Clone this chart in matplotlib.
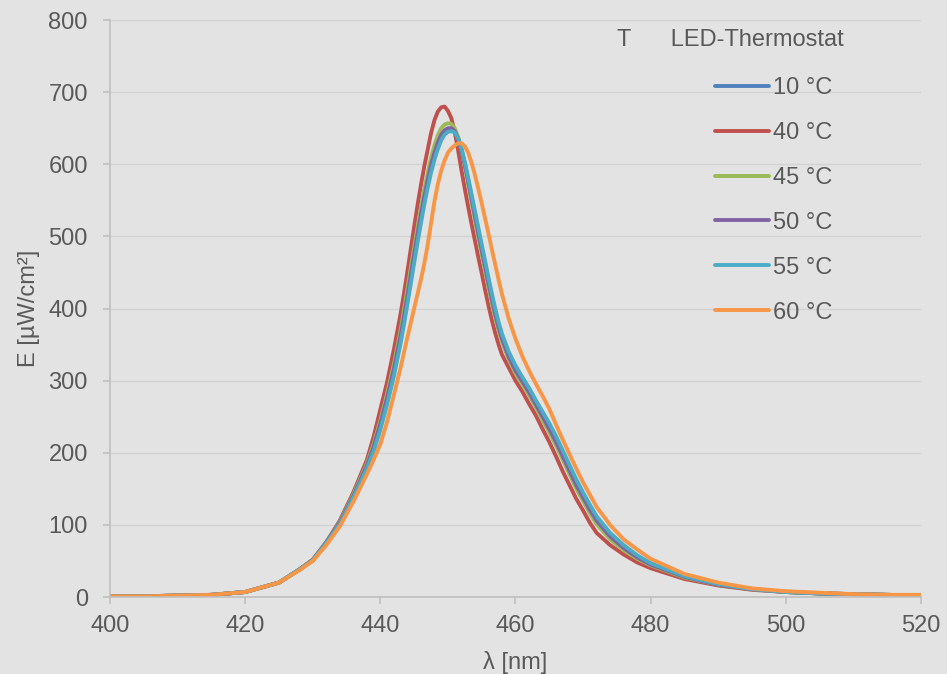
import matplotlib.pyplot as plt

plt.rcParams['font.family'] = ['Liberation Sans', 'DejaVu Sans']

wl = ([400, 405, 410, 415, 420, 425, 428, 430, 432, 434, 436, 438]
      + [439, 440, 441, 442]
      + [443 + 0.5 * i for i in range(31)]
      + list(range(459, 473))
      + [474, 476, 478, 480]
      + [485, 490, 495, 500, 505, 510, 515, 520])

e_10 = ([1, 1, 2, 3, 7, 20, 38, 51, 75, 102, 139, 180]
        + [205, 236, 271, 311]
        + [356, 383, 411, 440, 469, 497, 524, 550, 573, 594, 611, 626, 637, 644, 647, 648,
           645, 636, 621, 601, 579, 555, 532, 508, 485, 462, 439, 417, 396, 378, 362]
        + [337, 318, 302, 287, 270, 254, 238, 220, 200, 180, 160, 142, 125, 109]
        + [87, 70, 57, 46]
        + [28, 18, 11, 7, 5, 4, 3, 2])
e_40 = ([1, 1, 2, 3, 7, 20, 38, 52, 76, 106, 145, 190]
        + [222, 260, 298, 343]
        + [393, 421, 451, 482, 513, 543, 571, 597, 620, 643, 661, 673, 679, 680, 674, 664,
           645, 620, 592, 566, 541, 517, 494, 471, 449, 426, 404, 384, 366, 350, 336]
        + [318, 300, 285, 268, 252, 233, 215, 195, 174, 155, 136, 120, 103, 89]
        + [72, 59, 48, 40]
        + [25, 16, 10, 7, 5, 4, 3, 2])
e_45 = ([1, 1, 2, 3, 7, 20, 38, 51, 76, 104, 142, 185]
        + [212, 245, 282, 323]
        + [370, 398, 427, 456, 485, 513, 540, 565, 588, 609, 626, 640, 650, 655, 657, 656,
           650, 638, 620, 597, 572, 547, 522, 498, 475, 452, 429, 407, 387, 369, 354]
        + [329, 310, 295, 280, 263, 245, 228, 210, 190, 170, 150, 133, 116, 101]
        + [80, 65, 53, 44]
        + [27, 17, 11, 7, 5, 4, 3, 2])
e_50 = ([1, 1, 2, 3, 7, 20, 38, 51, 76, 103, 140, 182]
        + [208, 240, 276, 316]
        + [362, 389, 417, 446, 475, 503, 530, 555, 578, 599, 616, 630, 641, 647, 650, 650,
           646, 636, 620, 599, 576, 552, 528, 504, 481, 458, 435, 413, 392, 374, 358]
        + [333, 314, 299, 284, 267, 250, 233, 215, 195, 175, 155, 138, 121, 106]
        + [84, 68, 55, 45]
        + [28, 17, 11, 7, 5, 4, 3, 2])
e_55 = ([1, 1, 2, 3, 7, 20, 38, 51, 75, 101, 138, 178]
        + [202, 232, 267, 306]
        + [352, 378, 406, 434, 463, 491, 518, 544, 567, 588, 606, 621, 633, 641, 645, 646,
           644, 636, 622, 603, 581, 558, 535, 512, 489, 466, 443, 421, 400, 381, 365]
        + [340, 321, 305, 290, 273, 257, 241, 223, 203, 183, 163, 145, 128, 112]
        + [89, 72, 58, 47]
        + [29, 18, 11, 7, 5, 4, 3, 2])
e_60 = ([1, 1, 2, 3, 7, 20, 37, 50, 72, 98, 132, 170]
        + [190, 212, 243, 280]
        + [318, 339, 360, 380, 400, 420, 440, 462, 488, 518, 548, 572, 591, 605, 616, 622,
           626, 629, 629, 625, 616, 602, 585, 566, 546, 525, 504, 482, 461, 440, 420]
        + [386, 358, 334, 314, 296, 279, 261, 239, 218, 198, 178, 159, 142, 125]
        + [100, 80, 66, 53]
        + [32, 20, 12, 8, 6, 4, 3, 3])

series = [('10 °C', e_10, '#4F81BD'),
          ('40 °C', e_40, '#C0504D'),
          ('45 °C', e_45, '#9BBB59'),
          ('50 °C', e_50, '#8064A2'),
          ('55 °C', e_55, '#4BACC6'),
          ('60 °C', e_60, '#F79646')]

bg = '#e3e3e3'
txt = '#595959'
fig = plt.figure(figsize=(9.47, 6.74), dpi=100, facecolor=bg)
ax = fig.add_axes([0.1162, 0.1142, 0.8563, 0.8561], facecolor=bg)

for name, vals, col in series:
    ax.plot(wl, vals, color=col, lw=2.8, label=name, solid_capstyle='round')

ax.set_xlim(400, 520)
ax.set_ylim(0, 800)
ax.set_xticks(range(400, 521, 20))
ax.set_yticks(range(0, 801, 100))
ax.yaxis.grid(True, color='#d3d3d3', lw=1)
ax.set_axisbelow(True)
for s in ['top', 'right']:
    ax.spines[s].set_visible(False)
for s in ['left', 'bottom']:
    ax.spines[s].set_color('#bfbfbf')
    ax.spines[s].set_linewidth(1.2)
ax.tick_params(axis='both', colors='#bfbfbf', labelcolor=txt, labelsize=17,
               length=5, width=1.2, pad=8)
ax.tick_params(axis='y', pad=11)

ax.set_xlabel('λ [nm]', fontsize=17, color=txt, labelpad=10)
ax.set_ylabel('E [µW/cm²]', fontsize=17, color=txt, labelpad=6)

fig.text(617 / 947, 1 - 40 / 674, 'T      LED-Thermostat', fontsize=17, color=txt,
         ha='left', va='center')
leg = ax.legend(loc='upper left', bbox_to_anchor=(715 / 947, 1 - 77 / 674),
                bbox_transform=fig.transFigure, frameon=False, fontsize=17,
                handlelength=2.3, handletextpad=0.15, labelspacing=0.97,
                borderpad=0, borderaxespad=0)
for t in leg.get_texts():
    t.set_color(txt)

fig.savefig('out.png', dpi=100, facecolor=bg)
